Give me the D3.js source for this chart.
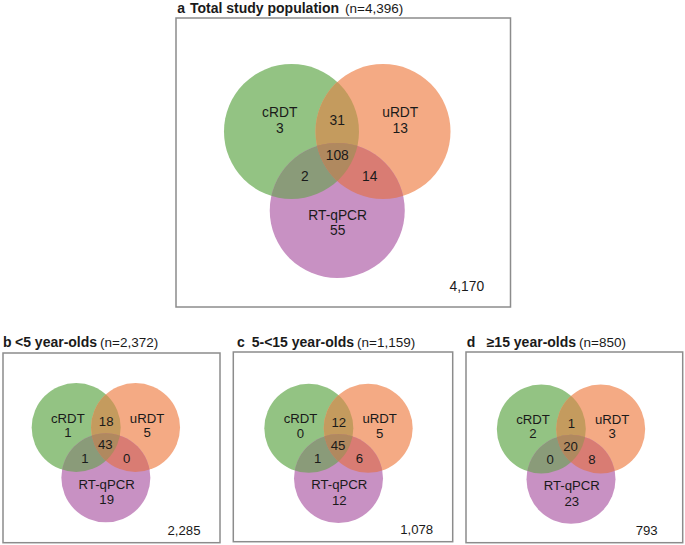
<!DOCTYPE html>
<html>
<head>
<meta charset="utf-8">
<script src="https://cdn.jsdelivr.net/npm/d3@7"></script>
<style>
  html, body { margin: 0; padding: 0; background: #fff; }
  svg { display: block; font-family: "Liberation Sans", Arial, Helvetica, sans-serif; }
</style>
</head>
<body>
<svg id="chart" width="685" height="545"></svg>
<script>
// ---------------- data ----------------
const panelLetters = ["a", "b", "c", "d"];
const panelTitles  = ["Total study population", "<5 year-olds", "5-<15 year-olds", "\u226515 year-olds"];
const panelN       = [4396, 2372, 1159, 850];
const setNames     = ["cRDT", "uRDT", "RT-qPCR"];
const onlyCRDT     = [3, 1, 0, 2];
const onlyURDT     = [13, 5, 5, 3];
const onlyPCR      = [55, 19, 12, 23];
const cRDTuRDT     = [31, 18, 12, 1];
const cRDTPCR      = [2, 1, 1, 0];
const uRDTPCR      = [14, 0, 6, 8];
const allThree     = [108, 43, 45, 20];
const noneCount    = [4170, 2285, 1078, 793];

// ---------------- styles ----------------
const colors = {
  g: "#93c383", o: "#f4aa84", p: "#c891c3",
  go: "#c49b5e", gp: "#8a9b79", op: "#d97c73", gop: "#b0895f"
};
const textColor = "#1a1a1a";
const boxStroke = "#8c8c8c";

// ---------------- layout ----------------
const large = {
  hd: 0.678, dy: 1.17, fs: 13.8,
  lab: { gName: [-0.852, -0.21], gCnt: [-0.852, 0.018],
         oName: [0.933, -0.21],  oCnt: [0.933, 0.018],
         pName: [0.006, 1.311],  pCnt: [0.006, 1.538],
         go: [0, -0.096], gop: [0, 0.422], gp: [-0.479, 0.733], op: [0.48, 0.733] },
  total: [43.7, 16.3], gap: 6
};
const small = {
  hd: 0.667, dy: 1.13, fs: 13.2,
  lab: { gName: [-0.854, -0.112], gCnt: [-0.854, 0.211],
         oName: [0.926, -0.112],  oCnt: [0.926, 0.211],
         pName: [0.018, 1.371],   pCnt: [0.018, 1.721],
         go: [0.007, -0.029], gop: [-0.011, 0.488], gp: [-0.47, 0.787], op: [0.47, 0.787] },
  total: [36, 7.7], gap: 3
};
const layout = [
  { box: [176, 18, 510.5, 307],   mx: 337.25, my: 131.5, r: 67.5, kind: large, title: { lx: 177.3, tx: 190,   y: 12.8 } },
  { box: [3, 353, 220, 542.7],    mx: 105.85, my: 427.5, r: 44.5, kind: small, title: { lx: 3,     tx: 15,    y: 346.5 } },
  { box: [233.3, 352, 452.7, 541.7], mx: 338.5, my: 428.3, r: 44.5, kind: small, title: { lx: 237, tx: 251.7, y: 346.5 } },
  { box: [466, 352, 682.7, 542.7], mx: 571,   my: 429,   r: 44.5, kind: small, title: { lx: 466.7, tx: 486.7, y: 346.5 } }
];

const fmt = d3.format(",");
const svg = d3.select("#chart");
const defs = svg.append("defs");

panelLetters.forEach((letter, i) => {
  const L = layout[i], K = L.kind;
  const x = d3.scaleLinear().domain([0, 1]).range([L.mx, L.mx + L.r]);
  const y = d3.scaleLinear().domain([0, 1]).range([L.my, L.my + L.r]);
  const rad = x(1) - x(0);
  const g = svg.append("g");

  // box
  g.append("rect")
    .attr("x", L.box[0]).attr("y", L.box[1])
    .attr("width", L.box[2] - L.box[0]).attr("height", L.box[3] - L.box[1])
    .attr("fill", "none").attr("stroke", boxStroke).attr("stroke-width", 1.5);

  // title
  g.append("text").attr("x", L.title.lx).attr("y", L.title.y)
    .attr("font-size", 14).attr("font-weight", "bold").attr("fill", textColor).text(letter);
  const t = g.append("text").attr("x", L.title.tx).attr("y", L.title.y)
    .attr("fill", textColor).attr("font-size", 14);
  t.append("tspan").attr("font-weight", "bold").text(panelTitles[i]);
  t.append("tspan").attr("dx", K.gap).attr("font-size", 13.5).text("(n=" + fmt(panelN[i]) + ")");

  // circles (unit coords)
  const circ = { g: [-K.hd, 0], o: [K.hd, 0], p: [0, K.dy] };
  Object.entries(circ).forEach(([k, c]) => {
    defs.append("clipPath").attr("id", `clip-${letter}-${k}`)
      .append("circle").attr("cx", x(c[0])).attr("cy", y(c[1])).attr("r", rad);
  });
  const drawCircle = (parent, k, fill) =>
    parent.append("circle").attr("cx", x(circ[k][0])).attr("cy", y(circ[k][1])).attr("r", rad).attr("fill", fill);

  drawCircle(g, "g", colors.g);
  drawCircle(g, "o", colors.o);
  drawCircle(g, "p", colors.p);
  drawCircle(g.append("g").attr("clip-path", `url(#clip-${letter}-g)`), "o", colors.go);
  drawCircle(g.append("g").attr("clip-path", `url(#clip-${letter}-g)`), "p", colors.gp);
  drawCircle(g.append("g").attr("clip-path", `url(#clip-${letter}-o)`), "p", colors.op);
  drawCircle(g.append("g").attr("clip-path", `url(#clip-${letter}-g)`)
              .append("g").attr("clip-path", `url(#clip-${letter}-o)`), "p", colors.gop);

  // labels
  const labels = [
    [K.lab.gName, setNames[0]], [K.lab.gCnt, onlyCRDT[i]],
    [K.lab.oName, setNames[1]], [K.lab.oCnt, onlyURDT[i]],
    [K.lab.pName, setNames[2]], [K.lab.pCnt, onlyPCR[i]],
    [K.lab.go, cRDTuRDT[i]], [K.lab.gop, allThree[i]],
    [K.lab.gp, cRDTPCR[i]], [K.lab.op, uRDTPCR[i]]
  ];
  g.selectAll("text.lbl").data(labels).join("text").attr("class", "lbl")
    .attr("x", d => x(d[0][0])).attr("y", d => y(d[0][1]))
    .attr("text-anchor", "middle").attr("font-size", K.fs).attr("fill", textColor)
    .text(d => d[1]);

  g.append("text")
    .attr("x", L.box[2] - K.total[0]).attr("y", L.box[3] - K.total[1])
    .attr("text-anchor", "middle").attr("font-size", K.fs).attr("fill", textColor)
    .text(fmt(noneCount[i]));
});
</script>
</body>
</html>
